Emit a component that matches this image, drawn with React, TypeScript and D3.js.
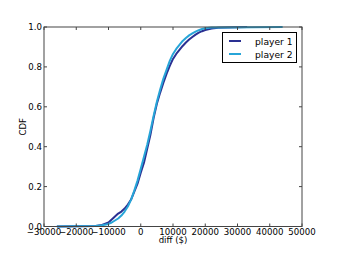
import React from "react";
import * as d3 from "d3";

const xTicks = [-30000, -20000, -10000, 0, 10000, 20000, 30000, 40000, 50000];
const yTicks = [0, 0.2, 0.4, 0.6, 0.8, 1.0];

const player1Values = [-26000, -14000, -12000, -10000, -9000, -8000, -7000, -6000, -5000, -4000, -3000, -2000, -1000, 0, 1000, 2000, 3000, 4000, 5000, 6000, 7000, 8000, 9000, 10000, 11000, 12000, 13000, 14000, 15000, 16000, 17000, 18000, 19000, 20000, 22000, 24000, 27000, 33000];
const player1Cdf = [0, 0.003, 0.008, 0.02, 0.035, 0.05, 0.065, 0.075, 0.09, 0.11, 0.135, 0.175, 0.215, 0.27, 0.32, 0.39, 0.46, 0.545, 0.615, 0.67, 0.72, 0.765, 0.805, 0.84, 0.865, 0.885, 0.905, 0.922, 0.937, 0.95, 0.962, 0.972, 0.979, 0.985, 0.992, 0.996, 0.998, 1.0];

const player2Values = [-26000, -14000, -12000, -10000, -9000, -8000, -7000, -6000, -5000, -4000, -3000, -2000, -1000, 0, 1000, 2000, 3000, 4000, 5000, 6000, 7000, 8000, 9000, 10000, 11000, 12000, 13000, 14000, 15000, 16000, 17000, 18000, 19000, 20000, 22000, 26000, 44000];
const player2Cdf = [0, 0.003, 0.006, 0.013, 0.02, 0.03, 0.04, 0.055, 0.075, 0.1, 0.135, 0.18, 0.23, 0.29, 0.35, 0.41, 0.48, 0.555, 0.625, 0.685, 0.74, 0.785, 0.83, 0.865, 0.89, 0.91, 0.93, 0.945, 0.958, 0.968, 0.977, 0.984, 0.99, 0.994, 0.997, 0.998, 1.0];

const seriesNames = ["player 1", "player 2"];
const seriesColors = ["#2a3092", "#27a5d8"];

const W = 338, H = 254;
const L = 44, R = 302, T = 27, B = 226.5;
const FONT = "DejaVu Sans, sans-serif";

export default function App() {
  const x = d3.scaleLinear().domain([-30000, 50000]).range([L, R]);
  const y = d3.scaleLinear().domain([0, 1]).range([B, T]);
  const line = d3.line<[number, number]>().x(d => x(d[0])).y(d => y(d[1]));
  const series = [
    player1Values.map((v, i) => [v, player1Cdf[i]] as [number, number]),
    player2Values.map((v, i) => [v, player2Cdf[i]] as [number, number]),
  ];
  const tl = 3;
  return (
    <svg width={W} height={H} style={{ position: "absolute", left: 0, top: 0, background: "#fff" }}>
      <rect x={0} y={0} width={W} height={H} fill="#fff" />
      <g>
        {series.map((s, i) => (
          <path key={i} d={line(s) || ""} fill="none" stroke={seriesColors[i]} strokeWidth={2} strokeLinejoin="round" />
        ))}
      </g>
      <rect x={L} y={T} width={R - L} height={B - T} fill="none" stroke="#444" strokeWidth={1} />
      {xTicks.map(t => (
        <g key={"x" + t}>
          <line x1={x(t)} x2={x(t)} y1={B} y2={B - tl} stroke="#444" />
          <line x1={x(t)} x2={x(t)} y1={T} y2={T + tl} stroke="#444" />
          <text x={x(t)} y={235.3} fontSize={8.6} fontFamily={FONT} textAnchor="middle" fill="#000">
            {t < 0 ? "\u2212" + Math.abs(t) : String(t)}
          </text>
        </g>
      ))}
      {yTicks.map(t => (
        <g key={"y" + t}>
          <line x1={L} x2={L + tl} y1={y(t)} y2={y(t)} stroke="#444" />
          <line x1={R} x2={R - tl} y1={y(t)} y2={y(t)} stroke="#444" />
          <text x={L - 2} y={y(t) + 3} fontSize={8.6} fontFamily={FONT} textAnchor="end" fill="#000">
            {t.toFixed(1)}
          </text>
        </g>
      ))}
      <text x={(L + R) / 2} y={243} fontSize={8.6} fontFamily={FONT} textAnchor="middle" fill="#000">diff ($)</text>
      <text transform={`translate(26,${(T + B) / 2}) rotate(-90)`} fontSize={8.6} fontFamily={FONT} textAnchor="middle" fill="#000">CDF</text>
      <g>
        <rect x={222.5} y={32.5} width={74} height={30} fill="#fff" stroke="#000" strokeWidth={1} />
        {seriesNames.map((n, i) => (
          <g key={n}>
            <line x1={229} x2={241} y1={41 + i * 13} y2={41 + i * 13} stroke={seriesColors[i]} strokeWidth={2} />
            <text x={255} y={44.5 + i * 13} fontSize={9.2} fontFamily={FONT} fill="#000">{n}</text>
          </g>
        ))}
      </g>
    </svg>
  );
}
